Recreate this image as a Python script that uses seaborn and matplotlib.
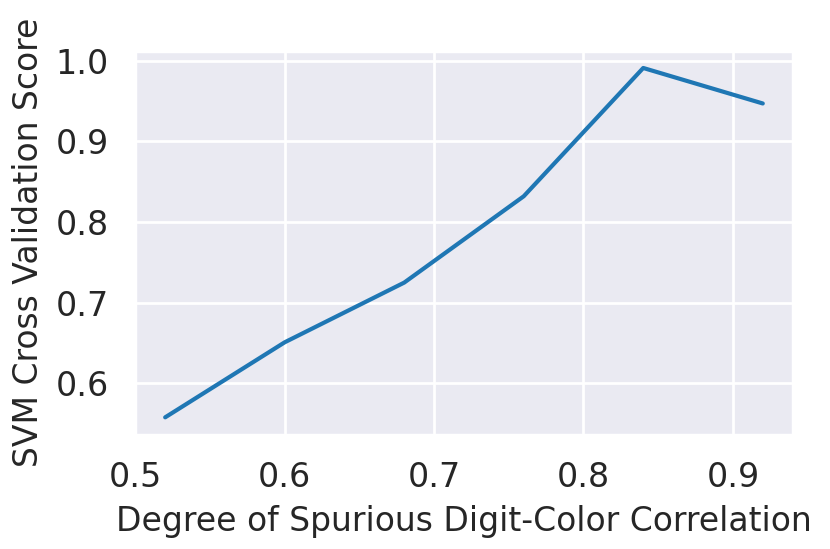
import numpy as np
import pandas as pd
import matplotlib.pyplot as plt
import seaborn as sns

correlation = [0.52, 0.60, 0.68, 0.76, 0.84, 0.92]
svm_score = [0.558, 0.651, 0.725, 0.832, 0.991, 0.947]

df = pd.DataFrame({'corr': correlation, 'score': svm_score})

sns.set_theme(style="darkgrid", context="notebook")
plt.rcParams['font.family'] = ['DejaVu Sans']
plt.rcParams['xtick.labelsize'] = 12
plt.rcParams['ytick.labelsize'] = 12
plt.rcParams['axes.labelsize'] = 11.9

fig, ax = plt.subplots(figsize=(4.15, 2.745), dpi=200)
sns.lineplot(data=df, x='corr', y='score', ax=ax, color='#1f77b4', lw=1.5)

ax.set_xlabel('Degree of Spurious Digit-Color Correlation')
ax.set_ylabel('SVM Cross Validation Score')
ax.set_xticks([0.5, 0.6, 0.7, 0.8, 0.9])
ax.set_yticks([0.6, 0.7, 0.8, 0.9, 1.0])

fig.subplots_adjust(left=0.163, right=0.955, bottom=0.208, top=0.908)
plt.savefig('out.png', dpi=200)
